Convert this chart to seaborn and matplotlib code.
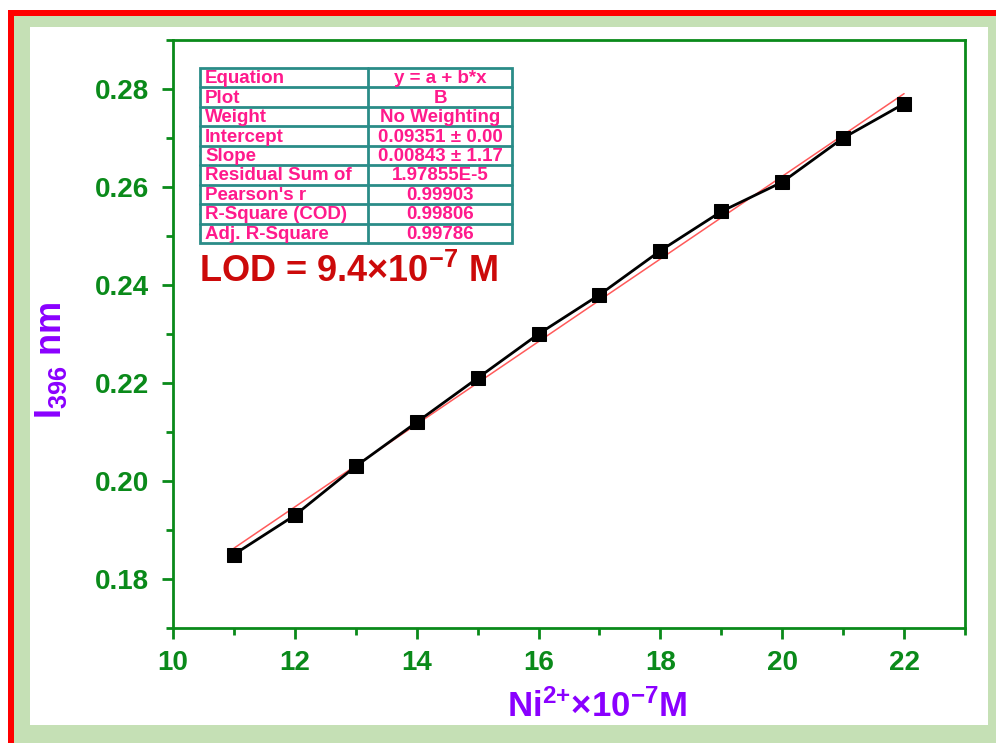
import numpy as np
import pandas as pd
import seaborn as sns
import matplotlib.pyplot as plt
from matplotlib.patches import Rectangle
from matplotlib.ticker import MultipleLocator

# Data
conc = [11, 12, 13, 14, 15, 16, 17, 18, 19, 20, 21, 22]
intensity = [0.185, 0.193, 0.203, 0.212, 0.221, 0.230, 0.238, 0.247, 0.255, 0.261, 0.270, 0.277]
x_ticks = [10, 12, 14, 16, 18, 20, 22]
y_ticks = [0.18, 0.20, 0.22, 0.24, 0.26, 0.28]
table_keys = ["Equation", "Plot", "Weight", "Intercept", "Slope", "Residual Sum of",
              "Pearson's r", "R-Square (COD)", "Adj. R-Square"]
table_vals = ["y = a + b*x", "B", "No Weighting", "0.09351 ± 0.00", "0.00843 ± 1.17",
              "1.97855E-5", "0.99903", "0.99806", "0.99786"]

df = pd.DataFrame({"x": conc, "y": intensity})

sns.set_theme(style="white")
plt.rcParams['font.family'] = ['Liberation Sans', 'DejaVu Sans']
plt.rcParams['mathtext.fontset'] = 'custom'
plt.rcParams['mathtext.rm'] = 'Liberation Sans'
plt.rcParams['mathtext.it'] = 'Liberation Sans:italic'
plt.rcParams['mathtext.bf'] = 'Liberation Sans:bold'

W, H = 996, 743
fig = plt.figure(figsize=(W / 100, H / 100), dpi=100)
fig.patch.set_facecolor("white")

def px_rect(x0, y0, x1, y1, color, z):
    fig.patches.append(Rectangle((x0 / W, 1 - y1 / H), (x1 - x0) / W, (y1 - y0) / H,
                                 transform=fig.transFigure, facecolor=color,
                                 edgecolor="none", zorder=z))

px_rect(8, 10, W, H, "#ff0000", -3)
px_rect(14, 16, W, H, "#c5e0b5", -2)
px_rect(30, 27, 988, 725, "white", -1)

left, right, top, bottom = 173, 965, 40, 628
ax = fig.add_axes([left / W, 1 - bottom / H, (right - left) / W, (bottom - top) / H])
ax.set_facecolor("white")

green = "#0a8a1a"
purple = "#8a00ff"

sns.regplot(data=df, x="x", y="y", ax=ax, scatter=False, ci=None,
            line_kws=dict(color="#ff5a5a", lw=1.1, zorder=2))
sns.lineplot(data=df, x="x", y="y", ax=ax, color="black", lw=2.0,
             marker="s", markersize=10, markeredgecolor="black",
             markerfacecolor="black", zorder=3)

ax.set_xlim(10, 23)
ax.set_ylim(0.17, 0.29)
ax.set_xticks(x_ticks)
ax.set_yticks(y_ticks)
ax.xaxis.set_minor_locator(MultipleLocator(1))
ax.yaxis.set_minor_locator(MultipleLocator(0.01))
ax.set_xticklabels([str(v) for v in x_ticks])
ax.set_yticklabels([f"{v:.2f}" for v in y_ticks])

for s in ax.spines.values():
    s.set_color(green)
    s.set_linewidth(2)
    s.set_visible(True)
ax.tick_params(axis="both", which="major", direction="out", length=8, width=2,
               color=green, labelcolor=green, bottom=True, left=True, top=False, right=False)
ax.tick_params(axis="both", which="minor", direction="out", length=5, width=2,
               color=green, bottom=True, left=True, top=False, right=False)
for lab in ax.get_yticklabels():
    lab.set_fontsize(20)
    lab.set_fontweight("bold")
for lab in ax.get_xticklabels():
    lab.set_fontsize(20)
    lab.set_fontweight("bold")
ax.tick_params(axis="x", pad=8)
ax.tick_params(axis="y", pad=9)

ax.set_xlabel("Ni$^{\\mathbf{2{+}}}$×10$^{\\mathbf{-7}}$M", color=purple, fontsize=25,
              fontweight="bold")
ax.xaxis.set_label_coords(0.535, -0.105)
ax.set_ylabel("I$_{\\mathbf{396}}$ nm", color=purple, fontsize=26, fontweight="bold")
ax.yaxis.set_label_coords(-0.131, 0.455)

# Fit-result table
tx0, tx1, tmid = 200, 512, 368
ty0, ty1 = 68, 243
n = len(table_keys)
rh = (ty1 - ty0) / n
teal = "#2a8c88"
pink = "#ff1a8c"
def fx(p): return p / W
def fy(p): return 1 - p / H
fig.add_artist(Rectangle((fx(tx0), fy(ty1)), (tx1 - tx0) / W, (ty1 - ty0) / H,
                         transform=fig.transFigure, facecolor="white", edgecolor=teal,
                         lw=2, zorder=5))
for i in range(1, n):
    y = ty0 + i * rh
    fig.add_artist(plt.Line2D([fx(tx0), fx(tx1)], [fy(y), fy(y)], color=teal, lw=2,
                              transform=fig.transFigure, zorder=6))
fig.add_artist(plt.Line2D([fx(tmid), fx(tmid)], [fy(ty0), fy(ty1)], color=teal, lw=2,
                          transform=fig.transFigure, zorder=6))
for i, (k, v) in enumerate(zip(table_keys, table_vals)):
    yc = ty0 + (i + 0.5) * rh + 1
    fig.text(fx(tx0 + 5), fy(yc), k, color=pink, fontsize=13.5, fontweight="bold",
             ha="left", va="center", zorder=7)
    fig.text(fx((tmid + tx1) / 2), fy(yc), v, color=pink, fontsize=13.5, fontweight="bold",
             ha="center", va="center", zorder=7)

fig.text(fx(199), fy(272), "LOD = 9.4×10$^{\\mathbf{-7}}$ M", color="#cc0a0a", fontsize=26,
         fontweight="bold", ha="left", va="center", zorder=7)

fig.savefig("out.png", dpi=100)
